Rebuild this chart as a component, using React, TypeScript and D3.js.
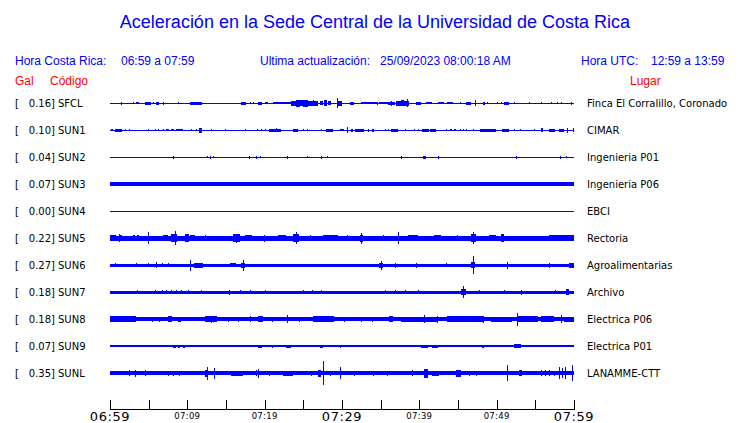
import React from "react";
import * as d3 from "d3";

const W = 740;
const H = 423;

const codes = ["SFCL", "SUN1", "SUN2", "SUN3", "SUN4", "SUN5", "SUN6", "SUN7", "SUN8", "SUN9", "SUNL"];
const gals = ["0.16", "0.10", "0.04", "0.07", "0.00", "0.22", "0.27", "0.18", "0.18", "0.07", "0.35"];
const places = [
  "Finca El Corralillo, Coronado",
  "CIMAR",
  "Ingenieria P01",
  "Ingenieria P06",
  "EBCI",
  "Rectoria",
  "Agroalimentarias",
  "Archivo",
  "Electrica P06",
  "Electrica P01",
  "LANAMME-CTT",
];
// background (noise) half-amplitude of each trace
const baseAmp = [0.5, 0.5, 0.5, 1.6, 0.5, 2.5, 1.5, 1.5, 2, 0.6, 1.7];

// bursts: [start minute, end minute, half amplitude]
const evSFCL = [[1.4,1.4,1.5],[3.0,3.1,1],[3.4,3.7,1],[4.5,5.25,1.5],[5.6,5.6,1],[6.0,6.4,1.5],[6.9,6.9,1.5],[8.8,8.8,1],[10.3,11.9,1.5],[17.0,17.6,1.5],[18.1,18.1,1],[18.5,18.5,1],[19.1,19.7,1.5],[20.1,20.4,1],[21.1,23.4,1.2],[23.4,24.1,2.5],[24.1,24.6,3.5],[24.6,24.9,3],[24.9,25.6,3.5],[25.6,26.9,2.5],[26.2,26.3,3],[27.1,27.5,2],[27.7,28.1,3],[28.2,28.6,2],[29.3,29.5,5],[29.5,30.0,2.5],[31.0,31.5,1.5],[32.5,34.6,1.2],[34.5,34.5,1.5],[34.8,35.9,1.2],[35.9,36.8,1.5],[36.3,36.3,2.5],[37.0,38.7,2.5],[37.6,38.0,3],[38.4,38.4,4],[39.6,40.2,1.5],[40.9,41.7,1.2],[42.4,43.2,1.2],[43.6,44.3,1],[45.2,45.2,1],[46.0,46.7,1.5],[47.2,47.2,3],[48.2,48.5,1.5],[48.8,48.8,1],[50.1,50.1,1],[50.5,50.5,1],[51.0,51.6,1.5],[52.2,52.2,1],[54.2,54.2,1],[55.7,55.7,1],[57.0,57.0,1],[57.8,57.8,1],[58.3,58.3,1],[59.6,59.6,1.5]];
const evSUN1 = [[0.1,0.4,1.2],[0.6,1.5,1.5],[1.9,2.0,1],[2.4,2.6,1],[4.9,4.9,1],[5.8,5.9,1],[6.2,6.2,1],[6.9,6.9,1],[7.3,7.6,1.3],[7.9,8.3,1.3],[8.5,9.5,1.3],[10.5,10.6,1],[11.1,11.2,1],[11.5,11.9,2.5],[13.1,13.1,1],[14.9,14.9,1],[17.4,17.4,1],[19.0,19.1,1],[19.5,19.6,1],[20.0,20.1,1],[20.6,22.1,1.5],[21.5,21.5,2],[23.6,24.3,1.5],[24.9,25.0,1],[25.5,25.6,1],[27.3,27.3,1],[27.9,28.8,1.5],[29.7,30.3,1.2],[30.7,30.7,3],[31.2,31.4,1.5],[31.7,32.9,1.5],[33.3,33.5,1.5],[33.9,34.1,1.5],[35.5,35.5,1],[35.9,35.9,1],[36.4,37.3,1.5],[38.1,38.1,1],[39.3,39.4,1],[39.8,39.8,1],[40.4,41.2,1.5],[41.4,42.1,1.5],[43.4,43.6,1.2],[44.0,44.2,1.2],[44.5,44.7,1.2],[45.2,45.2,1],[45.6,45.6,1],[46.0,46.0,1],[46.9,46.9,1],[47.9,49.9,1.5],[50.7,51.6,1.5],[52.2,52.3,1],[53.0,53.1,1],[54.8,54.8,1],[55.7,56.0,2],[56.8,57.6,1.5],[58.0,58.7,1.5],[59.1,59.1,2.5],[59.9,60,2]];
const evSUN2 = [[8.2,8.2,1.5],[12.5,12.5,1],[12.9,12.9,1.5],[13.3,13.3,1],[18.0,18.0,1.5],[18.9,18.9,1.5],[19.4,19.4,0.8],[22.9,22.9,1.5],[25.5,25.5,0.8],[27.3,27.4,1.5],[28.0,28.0,0.8],[37.6,37.7,1.5],[40.5,40.8,1.5],[42.4,42.4,1.5],[52.5,52.6,1.5],[58.2,58.2,1.5],[59.0,59.0,1]];
const evSUN3 = [[18.0,18.0,2.2],[27.3,27.3,2.2],[27.8,27.8,2],[33.5,33.5,2.2],[42.4,42.4,2.2],[58.2,58.2,2.2]];
const evSUN4: number[][] = [];
const evSUN5 = [[0,0.8,3],[1.1,1.1,4],[1.2,1.5,3],[3.0,3.2,2.8],[3.5,3.7,2.8],[4.9,4.9,6],[6.9,7.5,3.3],[7.9,8.6,3.8],[8.4,8.4,7],[9.7,10.2,3.8],[10.4,11.0,3.3],[12.3,12.3,3],[15.9,16.8,3.8],[16.3,16.3,4.5],[17.4,18.3,3],[19.9,19.9,3.5],[21.7,22.8,3],[23.7,24.5,3.8],[24.1,24.1,6],[25.8,25.8,3],[27.5,29.5,3],[30.7,30.7,3],[32.3,32.7,3.5],[32.5,32.5,5.5],[35.3,35.3,3],[37.2,37.2,6],[38.5,39.8,3.3],[41.9,42.8,3],[44.9,44.9,3],[46.7,47.3,3.8],[47.0,47.0,6],[49.0,49.9,3],[50.5,51.0,4],[56.8,60,3]];
const evSUN6 = [[0.6,0.6,2],[3.4,3.4,2],[4.9,4.9,2],[6.0,6.0,3],[6.7,6.7,2],[7.5,7.5,2],[10.4,10.4,5.5],[10.8,12.0,2.5],[15.5,16.3,2],[17.2,17.2,5.5],[17.0,17.5,2.5],[35.0,35.0,4.5],[34.8,35.3,2.5],[36.8,36.8,2.5],[39.6,39.6,2.5],[43.4,43.4,2],[46.9,46.9,9],[46.7,47.2,3],[51.3,51.3,3.5],[56.8,56.8,2.5],[59.3,60,2.5]];
const evSUN7 = [[3.5,3.5,2],[5.8,5.8,2],[6.7,6.7,2],[7.3,7.3,2],[7.9,7.9,2],[8.5,8.5,2],[9.2,9.2,2],[10.1,10.1,2],[11.8,11.8,2],[15.4,15.4,2.5],[16.8,16.8,2],[18.1,18.1,2],[20.0,20.0,2],[24.9,24.9,2],[26.1,26.1,2],[27.3,27.3,2],[35.5,35.5,2],[36.8,36.8,2],[38.1,38.1,2],[39.8,39.8,2],[45.4,46.0,3],[45.6,45.6,6],[47.7,47.7,2],[51.0,51.0,2],[53.1,53.1,2.5],[57.5,57.5,2],[59.0,59.3,3]];
const evSUN8 = [[0,3.4,2.8],[5.4,5.4,2.5],[6.4,6.4,2.5],[7.5,8.0,2.8],[8.8,9.2,2.5],[12.3,13.8,2.8],[13.1,13.1,3.5],[15.2,15.2,2.5],[16.6,16.6,2.5],[18.1,18.1,3],[19.1,19.8,3],[20.9,20.9,2.5],[22.9,22.9,4],[24.5,24.5,2.5],[26.2,29.0,2.8],[30.3,30.3,2.5],[32.5,32.5,2.5],[33.9,33.9,2.5],[36.1,36.6,3],[37.6,42.4,2.5],[40.6,40.6,4],[42.3,42.3,3.5],[43.6,48.4,2.7],[48.2,48.2,3.5],[49.3,52.0,2.5],[52.6,52.6,6.5],[52.7,55.3,3.2],[55.7,57.4,2.8],[58.3,58.3,4],[58.7,60,2.5]];
const evSUN9 = [[0.1,0.3,1.2],[0.8,1.0,1.2],[1.5,1.6,1.2],[1.9,2.0,1.2],[2.4,3.0,1.2],[5.7,5.7,1],[8.2,8.5,1.5],[8.8,9.0,1.5],[9.5,9.7,1.5],[11.0,11.0,1.2],[11.8,11.8,1.2],[12.5,12.5,1.2],[13.0,13.0,1.2],[13.5,13.8,1.2],[16.6,16.6,1],[18.0,18.0,1.2],[19.1,19.6,1.5],[20.9,20.9,1.5],[21.5,21.5,1],[22.8,23.4,1.5],[24.7,24.7,1],[27.1,27.5,1.5],[27.9,28.6,1.2],[29.8,29.8,1.5],[32.3,32.3,1],[32.7,32.7,1],[36.1,36.1,1],[37.2,38.3,1],[39.3,39.3,1.2],[40.2,41.1,1.5],[41.7,42.4,1.5],[43.9,43.9,1],[44.5,44.5,1],[45.2,45.2,1],[48.1,48.3,1.5],[49.4,50.2,1],[52.2,53.1,2],[54.6,54.6,1.2],[55.9,55.9,1.2],[57.0,57.4,1.2],[58.0,59.6,1.2]];
const evSUNL = [[0.2,1.9,2],[2.4,2.4,3],[3.2,3.4,3.5],[4.5,4.5,3],[7.5,7.5,2.5],[8.2,8.2,2.5],[8.9,8.9,2.5],[12.3,12.7,3.5],[12.5,12.5,6.5],[13.5,13.5,5.5],[15.7,17.2,2.5],[18.9,18.9,3],[19.1,19.1,4.5],[20.5,20.5,2.5],[22.4,23.7,2.5],[26.0,26.0,2.5],[26.9,27.3,3.5],[27.6,27.6,12],[28.4,28.4,2.5],[29.8,29.8,6],[31.6,31.6,2.5],[34.0,34.0,2.5],[35.8,35.8,2.5],[39.1,39.1,3],[40.6,41.1,4.5],[41.7,42.6,2.5],[44.7,45.4,3.5],[46.4,46.4,2.5],[47.3,47.3,2.5],[51.4,51.4,8],[52.9,53.3,3],[55.7,55.7,3],[56.3,56.3,3],[56.8,56.8,3],[57.4,57.6,2.5],[58.0,58.0,6],[58.5,58.5,5],[58.8,58.8,6],[59.8,59.8,8]];

const events = [evSFCL, evSUN1, evSUN2, evSUN3, evSUN4, evSUN5, evSUN6, evSUN7, evSUN8, evSUN9, evSUNL];

const tickMinutes = [0, 5, 10, 15, 20, 25, 30, 35, 40, 45, 50, 55, 60];
const tickLabels = ["06:59", "07:09", "07:19", "07:29", "07:39", "07:49", "07:59"];
const tickLabelMinutes = [0, 10, 20, 30, 40, 50, 60];
const bigLabels = ["06:59", "07:29", "07:59"];

const BLUE = "#0000ff";
const RED = "#ff0000";
const SANS = "'Liberation Sans', Arial, sans-serif";
const DEJA = "'DejaVu Sans', sans-serif";

export default function App() {
  const x = d3.scaleLinear().domain([0, 60]).range([110, 574]);
  const row = d3.scaleBand().domain(codes).range([89.5, 386.5]);
  const amp = d3.scaleLinear().domain([0, 1]).range([0, 1]);

  return (
    <svg
      width={W}
      height={H}
      style={{ position: "absolute", left: 0, top: 0, background: "#fff" }}
    >
      <rect width={W} height={H} fill="#fff" />
      <text x={375} y={28} textAnchor="middle" fill={BLUE} fontFamily={SANS} fontSize={18}>
        Aceleración en la Sede Central de la Universidad de Costa Rica
      </text>
      <g fontFamily={SANS} fontSize={12} fill={BLUE}>
        <text x={15} y={65}>Hora Costa Rica:</text>
        <text x={121} y={65}>06:59 a 07:59</text>
        <text x={260} y={65}>Ultima actualización:</text>
        <text x={380} y={65}>25/09/2023 08:00:18 AM</text>
        <text x={581} y={65}>Hora UTC:</text>
        <text x={651} y={65}>12:59 a 13:59</text>
      </g>
      <g fontFamily={SANS} fontSize={12} fill={RED}>
        <text x={15} y={85}>Gal</text>
        <text x={50} y={85}>Código</text>
        <text x={630} y={85}>Lugar</text>
      </g>

      {codes.map((c, i) => {
        const cy = (row(c) as number) + row.bandwidth() / 2;
        const b = amp(baseAmp[i]);
        return (
          <g key={c}>
            <g fontFamily={DEJA} fontSize={10} fill="#000">
              <text x={15} y={cy + 4}>[</text>
              <text x={55} y={cy + 4} textAnchor="end">{gals[i] + "]"}</text>
              <text x={58} y={cy + 4}>{c}</text>
              <text x={587} y={cy + 4}>{places[i]}</text>
            </g>
            <g fill={BLUE} shapeRendering="crispEdges">
              <rect x={x(0)} y={cy - b} width={x(60) - x(0)} height={Math.max(1, 2 * b)} />
              {events[i].map((e, k) => {
                const x0 = x(e[0]);
                const w = Math.max(1, x(e[1]) - x0);
                const a = amp(e[2]);
                return <rect key={k} x={x0} y={cy - a} width={w} height={2 * a} />;
              })}
            </g>
          </g>
        );
      })}

      <g stroke="#000" strokeWidth={1} shapeRendering="crispEdges">
        <line x1={x(0)} x2={x(60)} y1={409.5} y2={409.5} />
        {tickMinutes.map((m) => (
          <line key={m} x1={Math.round(x(m)) + 0.5} x2={Math.round(x(m)) + 0.5} y1={400} y2={410} />
        ))}
      </g>
      <g fontFamily={DEJA} fill="#000" textAnchor="middle">
        {tickLabels.map((l, i) => {
          const big = bigLabels.includes(l);
          return (
            <text
              key={l}
              x={x(tickLabelMinutes[i])}
              y={big ? 421 : 419}
              fontSize={big ? 13 : 8.5}
              letterSpacing={big ? 0.6 : 0.3}
            >
              {l}
            </text>
          );
        })}
      </g>
    </svg>
  );
}
